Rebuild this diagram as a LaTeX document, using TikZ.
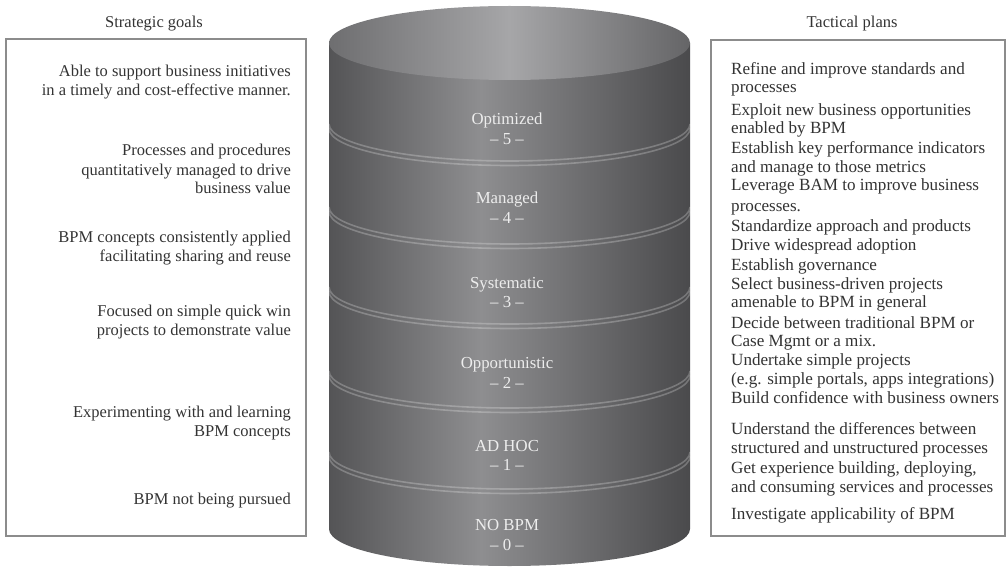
\documentclass[tikz,border=0pt]{standalone}
\usepackage{fontspec}
\setmainfont{Liberation Serif}
\definecolor{boxline}{HTML}{8C8C8C}
\definecolor{boxtext}{HTML}{333333}
\definecolor{lvltext}{HTML}{EDEDED}
\definecolor{cylL}{HTML}{545456}
\definecolor{cylM}{HTML}{8E8E90}
\definecolor{cylR}{HTML}{4A4A4C}
\definecolor{capL}{HTML}{6E6E70}
\definecolor{capM}{HTML}{A6A6A8}
\definecolor{capR}{HTML}{656567}
% side of the drum: dark edges, light band left of centre
\pgfdeclarehorizontalshading{cylbody}{100bp}{color(0bp)=(cylL); color(25bp)=(cylL); color(46bp)=(cylM); color(75bp)=(cylR); color(100bp)=(cylR)}
% top face of the drum
\pgfdeclarehorizontalshading{cyltop}{100bp}{color(0bp)=(capL); color(25bp)=(capL); color(50bp)=(capM); color(75bp)=(capR); color(100bp)=(capR)}
\begin{document}
\begin{tikzpicture}[x=1pt,y=1pt,
  txt/.style={inner sep=0pt, text=boxtext, font=\fontsize{16.5}{19}\selectfont},
  plantxt/.style={txt, font=\fontsize{17.1}{19}\selectfont},
  lvl/.style={inner sep=0pt, text=lvltext, font=\fontsize{16.8}{19}\selectfont, anchor=mid},
  panel/.style={draw=boxline, line width=1.3pt},
  ringhi/.style={draw=white, opacity=0.24, line width=1.6pt}]
\useasboundingbox (0,0) rectangle (1006,566);

% panels
\draw[panel] (6,30) rectangle (306,527);
\draw[panel] (711,30) rectangle (1005,526);
\node[txt, anchor=mid] (hgoals) at (154,541) {Strategic goals};
\node[txt, anchor=mid] (hplans) at (852,541) {Tactical plans};

% drum
\shade[shading=cylbody] (329,523) -- (329,37)
  arc[start angle=180, end angle=360, x radius=180.5, y radius=37] -- (690,523) -- cycle;
\shade[shading=cyltop] (509.5,523) ellipse [x radius=180.5, y radius=37];
\foreach \yc in {442,359,279,195,114} {
  \draw[ringhi] (329,\yc) arc[start angle=180, end angle=360, x radius=180.5, y radius=37];
  \draw[ringhi] (329,\yc-4.5) arc[start angle=180, end angle=360, x radius=180.5, y radius=37];
}

% level names
\node[lvl] (lv5a) at (507,443.5) {Optimized};
\node[lvl] (lv5b) at (507,424.2) {– 5 –};
\node[lvl] (lv4a) at (507,364.5) {Managed};
\node[lvl] (lv4b) at (507,345.2) {– 4 –};
\node[lvl] (lv3a) at (507,280.2) {Systematic};
\node[lvl] (lv3b) at (507,260.8) {– 3 –};
\node[lvl] (lv2a) at (507,199.5) {Opportunistic};
\node[lvl] (lv2b) at (507,180.2) {– 2 –};
\node[lvl] (lv1a) at (507,116.8) {AD HOC};
\node[lvl] (lv1b) at (507,97.5) {– 1 –};
\node[lvl] (lv0a) at (507,37.5) {NO BPM};
\node[lvl] (lv0b) at (507,17.5) {– 0 –};

% strategic goals, right aligned
\foreach \y/\t [count=\i] in {
  491.3/{Able to support business initiatives},
  472.3/{in a timely and cost-effective manner.},
  413/{Processes and procedures},
  393/{quantitatively managed to drive},
  374.7/{business value},
  325.7/{BPM concepts consistently applied},
  307/{facilitating sharing and reuse},
  252/{Focused on simple quick win},
  233/{projects to demonstrate value},
  150.7/{Experimenting with and learning},
  132/{BPM concepts},
  63.7/{BPM not being pursued}}
  \node[txt, anchor=mid east] (goal\i) at (291,\y) {\t};

% tactical plans, left aligned
\foreach \y/\t [count=\i] in {
  494/{Refine and improve standards and},
  475.5/{processes},
  453/{Exploit new business opportunities},
  434.5/{enabled by BPM},
  414.5/{Establish key performance indicators},
  396/{and manage to those metrics},
  378/{Leverage BAM to improve business},
  357/{processes.},
  336.3/{Standardize approach and products},
  317.3/{Drive widespread adoption},
  298/{Establish governance},
  279/{Select business-driven projects},
  260.7/{amenable to BPM in general},
  239.7/{Decide between traditional BPM or},
  221.3/{Case Mgmt or a mix.},
  202.3/{Undertake simple projects},
  184/{(e.g. simple portals, apps integrations)},
  165/{Build confidence with business owners},
  133.7/{Understand the differences between},
  114.7/{structured and unstructured processes},
  94.7/{Get experience building, deploying,},
  75.7/{and consuming services and processes},
  49/{Investigate applicability of BPM}}
  \node[plantxt, anchor=mid west] (plan\i) at (731,\y) {\t};
\end{tikzpicture}
\end{document}
